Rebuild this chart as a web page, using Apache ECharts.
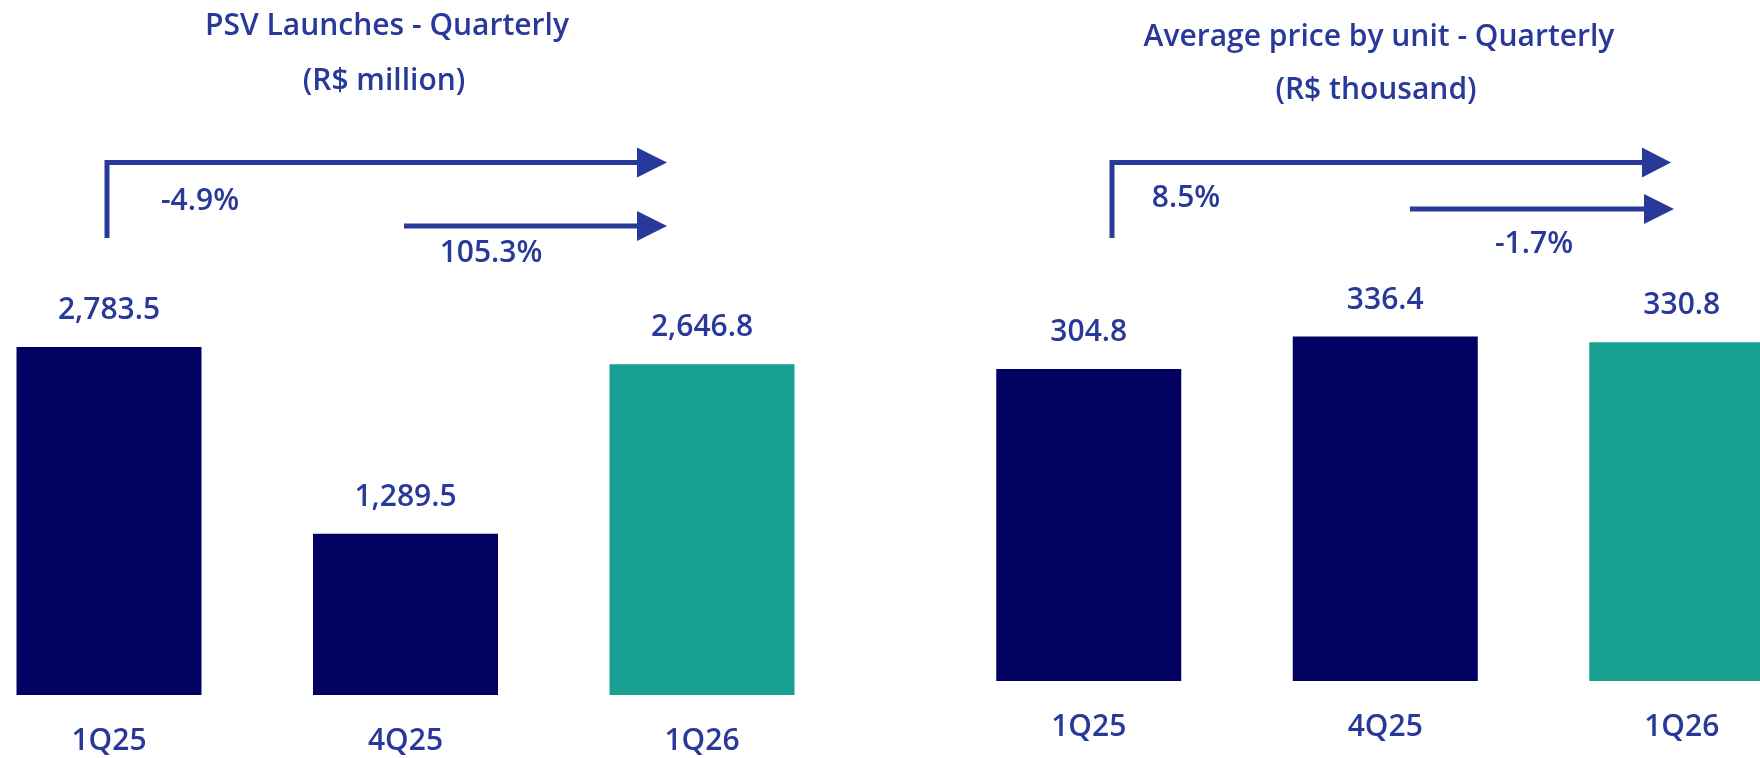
<!DOCTYPE html>
<html>
<head>
<meta charset="utf-8">
<script src="https://cdn.jsdelivr.net/npm/echarts@6/dist/echarts.min.js"></script>
<style>
html,body{margin:0;padding:0;background:#fff;}
#chart{width:1760px;height:758px;}
</style>
</head>
<body>
<div id="chart"></div>
<script>
const categories = ['1Q25', '4Q25', '1Q26'];
const launchesValues = [2783.5, 1289.5, 2646.8];
const priceValues = [304.8, 336.4, 330.8];
const launchesTitle = ['PSV Launches - Quarterly', '(R$ million)'];
const priceTitle = ['Average price by unit - Quarterly', '(R$ thousand)'];
const launchesChanges = ['-4.9%', '105.3%'];
const priceChanges = ['8.5%', '-1.7%'];

const NAVY = '#020061';
const TEAL = '#179F92';
const TXT = '#29399A';
const FONT = '"Open Sans", "Noto Sans", sans-serif';
const FS = 30;

function colored(vals) {
  return vals.map((v, i) => ({ value: v, itemStyle: { color: i === vals.length - 1 ? TEAL : NAVY } }));
}

function txt(text, x, y) {
  return { type: 'text', x: x, y: y, style: { text: text, fill: TXT, font: '600 ' + FS + 'px ' + FONT, align: 'center', verticalAlign: 'middle' } };
}
function head(x0, x1, yc, h) {
  return { type: 'polygon', shape: { points: [[x0, yc - h / 2], [x1, yc], [x0, yc + h / 2]] }, style: { fill: TXT } };
}
function line(pts) {
  return { type: 'polyline', shape: { points: pts }, style: { stroke: TXT, lineWidth: 5, fill: null } };
}

const chart = echarts.init(document.getElementById('chart'));
chart.setOption({
  backgroundColor: '#fff',
  animation: false,
  grid: [
    { left: -39.25, top: 195, width: 889.5, height: 500, outerBoundsMode: 'none', containLabel: false },
    { left: 940.5, top: 271.4, width: 889.5, height: 409.6, outerBoundsMode: 'none', containLabel: false }
  ],
  xAxis: [0, 1].map(i => ({
    type: 'category', gridIndex: i, data: categories,
    axisLine: { show: false }, axisTick: { show: false },
    axisLabel: { color: TXT, fontSize: FS, fontWeight: 600, fontFamily: FONT, margin: 31.5 }
  })),
  yAxis: [
    { type: 'value', gridIndex: 0, min: 0, max: 4000, show: false, splitLine: { show: false } },
    { type: 'value', gridIndex: 1, min: 0, max: 400, show: false, splitLine: { show: false } }
  ],
  series: [
    { type: 'bar', xAxisIndex: 0, yAxisIndex: 0, data: colored(launchesValues), barWidth: 185,
      label: { show: true, position: 'top', distance: 21.5, color: TXT, fontSize: FS, fontWeight: 600, fontFamily: FONT,
        formatter: p => p.value.toLocaleString('en-US', { minimumFractionDigits: 1, maximumFractionDigits: 1 }) } },
    { type: 'bar', xAxisIndex: 1, yAxisIndex: 1, data: colored(priceValues), barWidth: 185,
      label: { show: true, position: 'top', distance: 21.5, color: TXT, fontSize: FS, fontWeight: 600, fontFamily: FONT,
        formatter: p => p.value.toFixed(1) } }
  ],
  graphic: [
    txt(launchesTitle[0], 387, 26), txt(launchesTitle[1], 384, 81),
    txt(priceTitle[0], 1379, 37), txt(priceTitle[1], 1376, 90),
    line([[107, 238], [107, 162.5], [640, 162.5]]), head(637, 667, 162.5, 30),
    line([[404, 226], [640, 226]]), head(637, 667, 226, 30),
    txt(launchesChanges[0], 200, 201), txt(launchesChanges[1], 491, 253),
    line([[1112, 238], [1112, 162.5], [1645, 162.5]]), head(1642, 1671, 162.5, 30),
    line([[1410, 209], [1647, 209]]), head(1644, 1674, 209, 30),
    txt(priceChanges[0], 1186, 198), txt(priceChanges[1], 1534, 244)
  ]
});
</script>
</body>
</html>
